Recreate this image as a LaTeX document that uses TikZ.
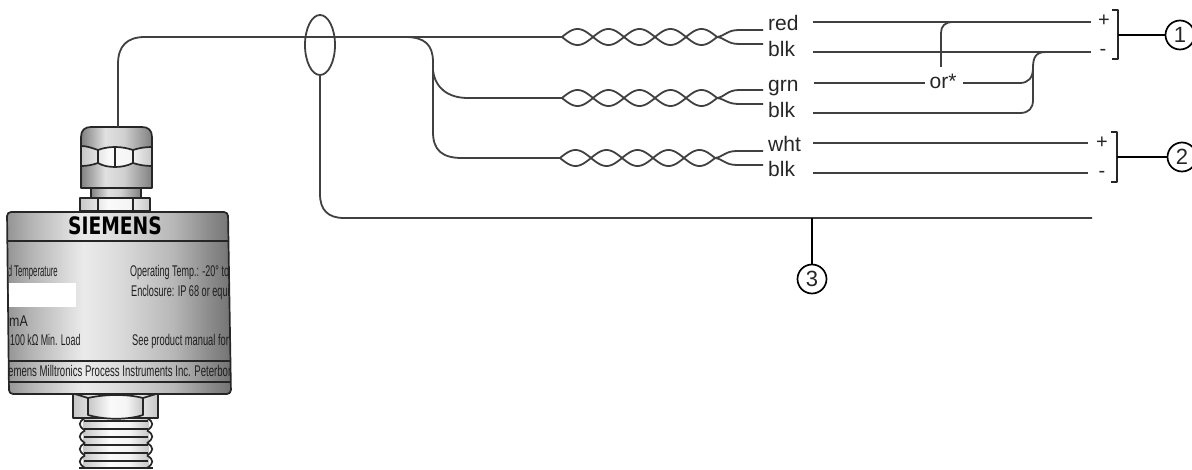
\documentclass[tikz,border=0pt]{standalone}
\usepackage{fontspec}
\setmainfont{Liberation Sans}
\newfontfamily\logofont{DejaVu Sans}
\usetikzlibrary{calc,shapes.geometric}
\definecolor{wirec}{gray}{0.25}
\definecolor{txtc}{gray}{0.15}
\pgfdeclarehorizontalshading{bodyshade}{100bp}{color(0bp)=(black!40);color(25bp)=(black!42);color(30bp)=(black!30);color(42bp)=(black!8);color(50bp)=(black!14);color(62bp)=(black!28);color(70bp)=(black!45);color(75bp)=(black!55);color(100bp)=(black!55)}
\pgfdeclarehorizontalshading{partshade}{100bp}{color(0bp)=(black!50);color(25bp)=(black!50);color(42bp)=(black!12);color(55bp)=(black!18);color(75bp)=(black!50);color(100bp)=(black!50)}
\pgfdeclarehorizontalshading{paleshade}{100bp}{color(0bp)=(black!22);color(25bp)=(black!22);color(45bp)=(black!2);color(60bp)=(black!4);color(75bp)=(black!22);color(100bp)=(black!22)}
\tikzset{
  x=1pt,y=-1pt,
  wire/.style={draw=wirec,line width=1.8pt,line join=round},
  lab/.style={font=\fontsize{21}{23}\selectfont,text=txtc,inner sep=0pt,anchor=base west},
  sign/.style={font=\fontsize{20}{22}\selectfont,text=txtc,inner sep=0pt},
  callout/.style={circle,draw=black,line width=1.7pt,minimum size=29pt,inner sep=0pt,font=\fontsize{22}{24}\selectfont,text=txtc,fill=white},
  part/.style={draw=black!85,line width=1.7pt,line join=round},
  metal/.style={part,shading=partshade},
  pale/.style={part,shading=paleshade},
  plate/.style={font=\fontsize{15.5}{17}\selectfont,text=black!88,inner sep=0pt,anchor=base west},
}
\newcommand{\twisted}[3]{% x0, x1, y
  \draw[wire] plot[domain=0:900,samples=121,smooth] ({#1+\x/900*(#2-#1)},{#3+8*sin(\x)});
  \draw[wire] plot[domain=0:900,samples=121,smooth] ({#1+\x/900*(#2-#1)},{#3-8*sin(\x)});
}
\begin{document}
\begin{tikzpicture}
\useasboundingbox (0,0) rectangle (1192,470);
\clip (0,0) rectangle (1192,470);
% ---------- threads ----------
\path[shading=paleshade] (83,417) rectangle (149,468);
\foreach \yy in {421,429,437,445,453,461}{
  \draw[part,line width=1.5pt] (84,\yy) -- (148,\yy);
}
\foreach \yy in {418,430.5,443,455.5}{
  \draw[part] (85,\yy) .. controls (78,\yy+4) and (78,\yy+8) .. (85,\yy+12.5);
  \draw[part] (147,\yy) .. controls (154,\yy+4) and (154,\yy+8) .. (147,\yy+12.5);
}
\draw[part,line width=2.2pt] (79,468) -- (153,468);
% ---------- nut ----------
\path[pale] (73,394) rectangle (158,418);
\draw[part,fill=white,shading=paleshade] (88,398) .. controls (105,394) and (128,394) .. (143,398) -- (143,415) .. controls (128,420) and (105,420) .. (88,415) -- cycle;
\draw[part] (75,394) -- (88,398) (156,394) -- (143,398);
% ---------- gland ----------
\path[metal] (81,188) -- (81,137) .. controls (81,130) and (85,127) .. (91,127) -- (142,127) .. controls (148,127) and (152,130) .. (152,137) -- (152,188) -- cycle;
\path[part,shading=paleshade] (81,146) .. controls (87,146) and (92,148) .. (98,150) .. controls (103,148) and (109,147) .. (115,147) .. controls (121,147) and (127,148) .. (133,150) .. controls (139,148) and (145,147) .. (152,147) -- (152,166) .. controls (145,166) and (139,165) .. (133,163) .. controls (127,166) and (121,167) .. (115,167) .. controls (109,167) and (103,166) .. (98,163) .. controls (92,165) and (87,166) .. (81,166) -- cycle;
\draw[part] (98,150) -- (98,163) (115,147) -- (115,167) (133,150) -- (133,163);
\path[metal] (91,188) rectangle (141,198);
\path[pale] (80,198) rectangle (150,211);
\draw[part] (98,198) -- (98,211) (133,198) -- (133,211);
% ---------- body ----------
\path[part,shading=bodyshade,rounded corners=4pt] (7,212) -- (228,212) -- (231,394) -- (9,394) -- cycle;
\draw[part] (7.5,241) -- (229,241);
\draw[part] (8.5,361) -- (230.5,361);
\draw[part] (9,382) -- (231,382);
\node[inner sep=0pt,font=\logofont\bfseries\fontsize{24}{26}\selectfont,text=black] (brand) at (115,226) {\scalebox{0.78}[1]{SIEMENS}};
\fill[white] (9,283) rectangle (76,307);
\begin{scope}
\clip (8,212) -- (228,212) -- (231,394) -- (9,394) -- cycle;
\node[plate] (t1) at (5,277) {\scalebox{0.5}[1]{rd Temperature}};
\node[plate] (t2) at (130,277) {\scalebox{0.58}[1]{Operating Temp.: -20° to}};
\node[plate] (t3) at (131,297) {\scalebox{0.59}[1]{Enclosure: IP 68 or equi}};
\node[plate] (t4) at (9,327) {\scalebox{0.8}[1]{mA}};
\node[plate] (t5) at (10,346) {\scalebox{0.57}[1]{100 kΩ Min. Load}};
\node[plate] (t6) at (132,346) {\scalebox{0.6}[1]{See product manual for}};
\node[plate] (t7) at (8,377) {\scalebox{0.62}[1]{emens Milltronics Process Instruments Inc. Peterboro}};
\end{scope}
% ---------- cable ----------
\coordinate (glandtop) at (118,127);
\coordinate (tw1) at (562,37);
\coordinate (tw2) at (562,98);
\coordinate (tw3) at (560,158);
\coordinate (split) at (405,37);
\draw[wire] (glandtop) -- (118,64) .. controls (118,46) and (127,37) .. (145,37) -- (tw1);
\draw[wire] (split) .. controls (425,37) and (433,45) .. (433,62) -- (433,132) .. controls (433,150) and (442,158) .. (462,158) -- (tw3);
\draw[wire] (433,70) .. controls (435,88) and (448,98) .. (468,98) -- (tw2);
% shield
\node[draw=wirec,line width=1.8pt,ellipse,minimum width=30pt,minimum height=60pt,inner sep=0pt] (ring) at (320,45) {};
\coordinate (shieldend) at (1092,218);
\draw[wire] (ring.south) -- (320,194) .. controls (320,210) and (328,218) .. (344,218) -- (shieldend);
% ---------- twisted pairs ----------
\twisted{562}{717}{37}
\twisted{562}{717}{98}
\twisted{560}{715}{158}
\foreach \ya/\yb/\yc/\xx in {37/30/44/717,98/90/104/717,158/151/165/715}{
  \draw[wire] (\xx,\ya) .. controls (\xx+8,\ya-1) and (\xx+10,\yb) .. (\xx+22,\yb) -- (763,\yb);
  \draw[wire] (\xx,\ya) .. controls (\xx+8,\ya+1) and (\xx+10,\yc) .. (\xx+22,\yc) -- (763,\yc);
}
% ---------- labels ----------
\node[lab] (red) at (768,31) {red};
\node[lab] (blka) at (768,57) {blk};
\node[lab] (grn) at (768,92) {grn};
\node[lab] (blkb) at (768,118) {blk};
\node[lab] (wht) at (768,152) {wht};
\node[lab] (blkc) at (768,177) {blk};
\node[lab,anchor=center] (ors) at (943,81) {or*};
\node[sign] (pa) at (1104,21) {+};
\node[sign] (ma) at (1103,52) {-};
\node[sign] (pb) at (1102,143) {+};
\node[sign] (mb) at (1102,174) {-};
% ---------- right wires ----------
\coordinate (wa) at (1091,22);
\coordinate (wb) at (1091,52);
\coordinate (wc) at (1088,143);
\coordinate (wd) at (1088,173);
\coordinate (orl) at (925,83);
\coordinate (orr) at (963,83);
\draw[wire] (813,22) -- (wa);
\draw[wire] (813,52) -- (wb);
\draw[wire] (814,83) -- (orl);
\draw[wire] (orr) -- (1020,83) .. controls (1028,83) and (1033,78) .. (1033,68) .. controls (1033,57) and (1036,52) .. (1046,52);
\draw[wire] (813,113) -- (1020,113) .. controls (1029,113) and (1033,108) .. (1033,100) -- (1033,68);
\draw[wire] (941,67) -- (941,33) .. controls (941,26) and (945,22) .. (953,22);
\draw[wire] (813,143) -- (wc);
\draw[wire] (813,173) -- (wd);
% ---------- brackets ----------
\node[callout] (c1) at (1180,35) {1};
\node[callout] (c2) at (1182,157) {2};
\node[callout] (c3) at (812,279) {3};
\draw[part,line cap=butt] (1112,10) -- (1118,10) -- (1118,59) -- (1112,59);
\draw[part,line cap=butt] (1111,132) -- (1117,132) -- (1117,182) -- (1111,182);
\coordinate (ba) at (1118,35);
\coordinate (bb) at (1117,157);
\coordinate (t3w) at (812,218);
\draw[wire,draw=black] (ba) -- (c1);
\draw[wire,draw=black] (bb) -- (c2);
\draw[wire,draw=black] (t3w) -- (c3);
\end{tikzpicture}
\end{document}
